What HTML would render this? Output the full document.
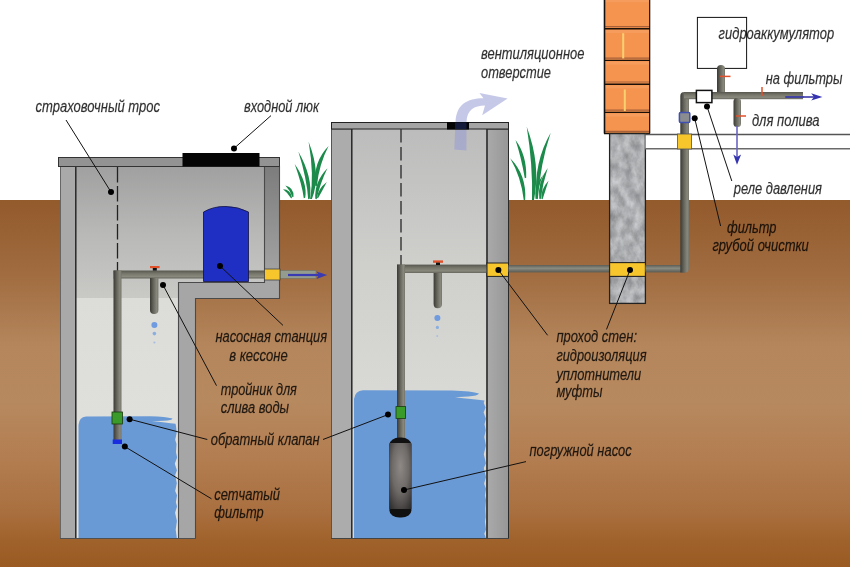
<!DOCTYPE html>
<html><head><meta charset="utf-8">
<style>
html,body{margin:0;padding:0;background:#fff;}
body{width:850px;height:567px;overflow:hidden;}
svg{display:block;filter:blur(0.35px);}
text{font-family:"Liberation Sans",sans-serif;font-style:italic;font-size:16px;fill:#000;fill-opacity:0.8;stroke:#000;stroke-opacity:0.55;stroke-width:0.3px;}
</style></head>
<body>
<svg width="856" height="573" viewBox="-3 -3 856 573" style="margin:-3px 0 0 -3px">
<defs>
<linearGradient id="soil" x1="0" y1="200" x2="0" y2="567" gradientUnits="userSpaceOnUse">
<stop offset="0" stop-color="#935a2c"/>
<stop offset="0.2" stop-color="#a06c40"/>
<stop offset="0.4" stop-color="#b5865c"/>
<stop offset="0.55" stop-color="#b7895f"/>
<stop offset="0.72" stop-color="#b27c4f"/>
<stop offset="0.85" stop-color="#a96f3f"/>
<stop offset="0.93" stop-color="#a0622b"/>
<stop offset="1" stop-color="#9a5a22"/>
</linearGradient>
<linearGradient id="room1" x1="0" y1="166" x2="0" y2="298" gradientUnits="userSpaceOnUse">
<stop offset="0" stop-color="#a0a0a0"/>
<stop offset="0.5" stop-color="#b8b8b7"/>
<stop offset="1" stop-color="#c9c9c6"/>
</linearGradient>
<linearGradient id="shaft1" x1="0" y1="298" x2="0" y2="540" gradientUnits="userSpaceOnUse">
<stop offset="0" stop-color="#dcdcd8"/>
<stop offset="1" stop-color="#e2e2de"/>
</linearGradient>
<linearGradient id="room2" x1="0" y1="129" x2="0" y2="400" gradientUnits="userSpaceOnUse">
<stop offset="0" stop-color="#bcbcbc"/>
<stop offset="0.5" stop-color="#cfcfcc"/>
<stop offset="1" stop-color="#d9d9d5"/>
</linearGradient>
<linearGradient id="rwall1" x1="0" y1="166" x2="0" y2="282" gradientUnits="userSpaceOnUse">
<stop offset="0" stop-color="#7c7c7c"/>
<stop offset="1" stop-color="#a6a6a6"/>
</linearGradient>
<linearGradient id="pipeH" x1="0" y1="0" x2="0" y2="1">
<stop offset="0" stop-color="#56564e"/>
<stop offset="0.4" stop-color="#77776c"/>
<stop offset="0.75" stop-color="#88887c"/>
<stop offset="1" stop-color="#66665d"/>
</linearGradient>
<linearGradient id="pipeV" x1="0" y1="0" x2="1" y2="0">
<stop offset="0" stop-color="#3a3a34"/>
<stop offset="0.4" stop-color="#64645b"/>
<stop offset="0.8" stop-color="#88887d"/>
<stop offset="1" stop-color="#74746a"/>
</linearGradient>
<filter id="conc" x="0" y="0" width="100%" height="100%" filterUnits="objectBoundingBox" color-interpolation-filters="sRGB">
<feTurbulence type="fractalNoise" baseFrequency="0.12 0.08" numOctaves="4" seed="7"/>
<feColorMatrix type="matrix" values="0.36 0 0 0 0.50  0.36 0 0 0 0.505  0.36 0 0 0 0.515  0 0 0 0 1"/>
</filter>
<linearGradient id="rwall2" x1="0" y1="0" x2="1" y2="0">
<stop offset="0" stop-color="#aaaaaa"/>
<stop offset="1" stop-color="#979797"/>
</linearGradient>
<linearGradient id="pipeG" x1="0" y1="0" x2="0" y2="1">
<stop offset="0" stop-color="#5c5e56"/>
<stop offset="0.45" stop-color="#8a8c82"/>
<stop offset="1" stop-color="#585a52"/>
</linearGradient>
<radialGradient id="pumpR" cx="0.5" cy="0.4" r="0.75" fx="0.5" fy="0.35">
<stop offset="0" stop-color="#8e8985"/>
<stop offset="0.5" stop-color="#6e6a68"/>
<stop offset="1" stop-color="#2e2c2c"/>
</radialGradient>
<linearGradient id="pump" x1="0" y1="0" x2="1" y2="0">
<stop offset="0" stop-color="#3a3a3a"/>
<stop offset="0.5" stop-color="#7a7a7a"/>
<stop offset="1" stop-color="#3a3a3a"/>
</linearGradient>
</defs>

<!-- soil -->
<rect x="-3" y="200" width="856" height="370" fill="url(#soil)"/>

<!-- ===== LEFT CAISSON ===== -->
<rect x="75" y="166" width="189" height="132" fill="url(#room1)"/>
<rect x="75" y="298" width="103" height="241" fill="url(#shaft1)"/>
<!-- water -->
<path d="M78.5,538 L78.5,425 Q79,417 86,416.5 L150,416.3 Q166,416.8 172.5,418.6 Q172,420.6 164,420.8 L152,421.2 Q166,422.4 175.5,423.8 L176.0,426.0 L176.7,432.7 L175.2,439.7 L176.5,444.1 L176.0,452.3 L177.1,457.4 L174.8,463.8 L176.9,470.2 L175.2,474.9 L176.8,483.3 L175.2,491.0 L177.0,495.3 L175.9,502.2 L177.0,506.4 L175.1,512.8 L176.9,521.1 L175.7,529.8 L176.8,537.8 L176.5,538.0 Z" fill="#6a9ad6"/>
<!-- left wall -->
<rect x="60.5" y="166.5" width="15" height="372" fill="#a9a9a9" stroke="#666" stroke-width="1"/>
<line x1="75.8" y1="166" x2="75.8" y2="538" stroke="#2a2a2a" stroke-width="1.5"/>
<!-- right wall upper -->

<!-- step L -->
<path d="M264.5,166.5 L279.5,166.5 L279.5,298.5 L195.5,298.5 L195.5,538.5 L178.5,538.5 L178.5,282.5 L264.5,282.5 Z" fill="#a6a6a6"/>
<rect x="264.5" y="166.5" width="15" height="116" fill="url(#rwall1)"/>
<path d="M264.5,166.5 L279.5,166.5 L279.5,298.5 L195.5,298.5 L195.5,538.5 L178.5,538.5 L178.5,282.5 L264.5,282.5 Z" fill="none" stroke="#4a4a4a" stroke-width="1.1"/>
<line x1="60" y1="538.5" x2="196" y2="538.5" stroke="#505050" stroke-width="1.2"/>
<!-- top slab -->
<rect x="58.5" y="157.5" width="221" height="9" fill="#939393" stroke="#333" stroke-width="1"/>
<rect x="182.5" y="153" width="77" height="13.5" fill="#050505"/>
<!-- dashed rope -->
<line x1="117.5" y1="167" x2="117.5" y2="271" stroke="#222" stroke-width="1.3" stroke-dasharray="15.5,3.5"/>


<!-- left pipes -->
<rect x="113.5" y="270.5" width="150.5" height="8" fill="url(#pipeH)"/>
<rect x="113.5" y="270.5" width="8" height="170" fill="url(#pipeV)"/>
<path d="M150,278 L158.4,278 L158.4,310 Q158.4,314 154.2,314 Q150,314 150,310 Z" fill="url(#pipeV)"/>
<rect x="150" y="266" width="9.6" height="2.2" fill="#e0502a"/>
<rect x="152.8" y="268" width="4" height="2.6" fill="#111"/>
<circle cx="154.4" cy="325" r="3" fill="#6f9be0"/>
<circle cx="154.4" cy="333.6" r="1.8" fill="#8aaee0"/>
<circle cx="154.4" cy="342.5" r="1.1" fill="#a8c0e0"/>
<rect x="112" y="412" width="10.5" height="12" fill="#3a9a2a" stroke="#1a3a10" stroke-width="0.8"/>
<rect x="112.7" y="439.5" width="9.3" height="4.5" fill="#1a2ee0"/>
<!-- blue tank -->
<path d="M203.5,281.5 L203.5,212 Q214,206 226,206.5 Q238,206.5 248.5,212 L248.5,281.5 Z" fill="#1f2fc4" stroke="#101040" stroke-width="0.8"/>
<!-- outlet pipe left -->
<rect x="280" y="270.5" width="36" height="7.8" fill="#949c8e"/>
<rect x="280" y="270.5" width="36" height="7.8" fill="none" stroke="#6e7468" stroke-width="0.6"/>
<rect x="264.5" y="269" width="15.5" height="11" fill="#f7c52c" stroke="#444" stroke-width="0.8"/>
<line x1="288" y1="275" x2="320" y2="275" stroke="#3a3ab2" stroke-width="2.2"/>
<path d="M316.5,271.5 L327.2,275 L316.5,279 L318.8,275 Z" fill="#3a3ab2"/>

<!-- ===== MIDDLE WELL ===== -->
<rect x="351.5" y="129" width="135.5" height="410" fill="url(#room2)"/>
<path d="M354,538 L354,399 Q355,391 363,390.3 L452,390.5 Q472,391.2 479,393.4 Q478,395.8 468,396.4 L455,397.2 Q472,399.2 484.5,400.4 L483.7,403.0 L485.6,407.5 L483.6,412.6 L485.9,418.8 L484.5,424.3 L485.7,430.2 L484.3,437.1 L485.9,445.6 L483.8,454.3 L485.9,463.2 L483.8,468.0 L486.0,476.9 L484.1,483.7 L486.0,488.8 L484.9,495.6 L486.0,500.0 L485.3,508.9 L485.7,516.9 L484.9,521.7 L486.0,529.5 L484.3,533.7 L485.9,538.0 L485.5,538.0 Z" fill="#6a9ad6"/>
<rect x="331.5" y="129" width="20" height="409.5" fill="#acacac" stroke="#555" stroke-width="1"/>
<line x1="351.8" y1="129" x2="351.8" y2="538" stroke="#2a2a2a" stroke-width="1.5"/>
<rect x="487" y="129" width="21.5" height="409.5" fill="url(#rwall2)" stroke="#2a2a2a" stroke-width="1"/>
<line x1="487" y1="129" x2="487" y2="538" stroke="#3a3a3a" stroke-width="1.6"/>
<line x1="331" y1="538.5" x2="509" y2="538.5" stroke="#444" stroke-width="1.2"/>
<!-- vent arrow -->
<path d="M454.3,149.5 L455.5,122 C456.5,104 467,98.5 483.5,98.2 L479.4,93 L507.6,98.5 L482.2,115.3 L485,105.5 C474,105.5 467,110 466.5,122 L466.4,150.5 Z" fill="rgb(150,155,212)" fill-opacity="0.55"/>
<rect x="331.5" y="122.5" width="177" height="6.5" fill="#a5a5a5" stroke="#222" stroke-width="1"/>
<rect x="447" y="122" width="22" height="7.5" fill="#050505"/>
<rect x="455" y="122.5" width="11.5" height="6.5" fill="#141a3c"/>
<line x1="401" y1="129" x2="401" y2="265" stroke="#333" stroke-width="1.4" stroke-dasharray="13.5,4.5"/>

<!-- middle pipes -->
<rect x="397" y="264.6" width="90" height="8.4" fill="url(#pipeH)"/>
<rect x="397" y="264.6" width="8" height="174" fill="url(#pipeV)"/>
<path d="M433.6,273 L442,273 L442,304 Q442,308.2 437.8,308.2 Q433.6,308.2 433.6,304 Z" fill="url(#pipeV)"/>
<rect x="433" y="260.4" width="10" height="2.4" fill="#e0502a"/>
<rect x="436" y="262.6" width="4" height="2.4" fill="#111"/>
<circle cx="437.4" cy="318" r="3" fill="#6f9be0"/>
<circle cx="437.4" cy="327.4" r="1.6" fill="#8aaee0"/>
<circle cx="437.2" cy="336" r="1" fill="#a8c0e0"/>
<rect x="396" y="406.6" width="9.6" height="11.8" fill="#3a9a2a" stroke="#1a3a10" stroke-width="0.8"/>
<!-- pump -->
<rect x="389.4" y="437.6" width="22" height="80" rx="10" ry="7" fill="#111"/>
<rect x="389.4" y="443" width="22" height="66" fill="url(#pumpR)"/>
<rect x="487" y="263" width="21.5" height="13.4" fill="#f7c52c" stroke="#222" stroke-width="1"/>

<!-- pipe to column -->
<rect x="508.5" y="265" width="101" height="7.4" fill="url(#pipeG)"/>

<!-- grass -->
<g fill="#1b8a4a">
<path d="M310.1,199.0 Q314.4,175.2 308.6,141.8 Q321.6,174.8 311.9,199.0 Z"/>
<path d="M315.2,185.8 Q312.9,162.0 328.6,146.0 Q319.1,164.0 316.8,186.2 Z"/>
<path d="M308.2,199.2 Q306.9,178.7 298.4,151.7 Q313.1,177.3 309.8,198.8 Z"/>
<path d="M303.8,198.2 Q302.1,184.8 294.7,164.0 Q307.9,183.2 305.2,197.8 Z"/>
<path d="M291.2,198.4 Q287.4,192.5 283.0,189.3 Q290.6,189.5 292.0,197.6 Z"/>
<path d="M292.5,197.3 Q290.0,190.3 285.4,185.6 Q294.0,187.7 293.5,196.7 Z"/>
<path d="M315.3,198.7 Q314.2,182.0 327.4,168.3 Q319.8,184.0 316.7,199.3 Z"/>
<path d="M317.0,197.7 Q317.9,188.8 326.8,182.0 Q322.1,191.2 318.0,198.3 Z"/>
<path d="M532.0,200.1 Q533.0,165.3 526.7,126.7 Q541.0,164.7 534.0,199.9 Z"/>
<path d="M536.2,198.8 Q533.7,162.3 550.7,132.7 Q540.3,163.7 537.8,199.2 Z"/>
<path d="M524.8,178.2 Q521.1,156.8 515.5,140.0 Q526.9,155.2 526.2,177.8 Z"/>
<path d="M523.8,200.2 Q521.2,177.0 510.2,158.2 Q526.8,175.0 525.2,199.8 Z"/>
<path d="M539.3,198.8 Q537.3,182.3 547.7,168.0 Q542.7,183.7 540.7,199.2 Z"/>
<path d="M541.4,198.8 Q540.7,189.2 548.5,180.7 Q545.3,190.8 542.6,199.2 Z"/>
<path d="M535.5,198.8 Q533.9,186.4 543.0,175.0 Q538.1,187.6 536.5,199.2 Z"/>
</g>

<!-- ===== COLUMN ===== -->
<rect x="604.5" y="-3" width="45" height="136.5" fill="#f4944f"/>
<rect x="605" y="-0.8" width="44" height="3" fill="#f7a468" opacity="0.6"/>
<line x1="605" y1="26.6" x2="649.5" y2="26.6" stroke="#a8603a" stroke-width="1.2"/>
<line x1="604" y1="28.8" x2="650" y2="28.8" stroke="#1a1008" stroke-width="1.4"/>
<rect x="605" y="30.0" width="44" height="3" fill="#f7a468" opacity="0.6"/>
<line x1="605" y1="58.2" x2="649.5" y2="58.2" stroke="#a8603a" stroke-width="1.2"/>
<line x1="604" y1="60.4" x2="650" y2="60.4" stroke="#1a1008" stroke-width="1.4"/>
<rect x="605" y="61.6" width="44" height="3" fill="#f7a468" opacity="0.6"/>
<line x1="605" y1="82.0" x2="649.5" y2="82.0" stroke="#a8603a" stroke-width="1.2"/>
<line x1="604" y1="84.2" x2="650" y2="84.2" stroke="#1a1008" stroke-width="1.4"/>
<rect x="605" y="85.4" width="44" height="3" fill="#f7a468" opacity="0.6"/>
<line x1="605" y1="110.2" x2="649.5" y2="110.2" stroke="#a8603a" stroke-width="1.2"/>
<line x1="604" y1="112.4" x2="650" y2="112.4" stroke="#1a1008" stroke-width="1.4"/>
<rect x="605" y="113.6" width="44" height="3" fill="#f7a468" opacity="0.6"/>
<line x1="605" y1="131.3" x2="649.5" y2="131.3" stroke="#a8603a" stroke-width="1.2"/>
<line x1="604" y1="133.5" x2="650" y2="133.5" stroke="#1a1008" stroke-width="1.4"/>
<rect x="622.2" y="33.2" width="2" height="25.2" fill="#f8d070"/>
<rect x="623.8" y="89.5" width="2" height="21.5" fill="#f8d070"/>
<line x1="604.5" y1="-3" x2="604.5" y2="133.5" stroke="#111" stroke-width="1.6"/>
<line x1="649.7" y1="-3" x2="649.7" y2="133.5" stroke="#111" stroke-width="1.2"/>
<rect x="609.6" y="133.6" width="35.8" height="169.8" filter="url(#conc)"/>
<rect x="609.6" y="133.6" width="35.8" height="169.8" fill="none" stroke="#222" stroke-width="1.3"/>
<rect x="609.6" y="262.6" width="35.8" height="13.8" fill="#f7c52c" stroke="#222" stroke-width="1.1"/>

<!-- ===== RIGHT SIDE ===== -->
<rect x="645.5" y="134.5" width="208" height="14.3" fill="#fff"/>
<line x1="645" y1="134.5" x2="853" y2="134.5" stroke="#555" stroke-width="1.3"/>
<line x1="645" y1="148.8" x2="853" y2="148.8" stroke="#6a6a6a" stroke-width="1.4"/>
<rect x="645.4" y="265" width="40" height="7.4" fill="url(#pipeG)"/>
<path d="M680.3,272.4 L680.3,96 Q680.3,92 684.3,92 L689,92 L689,268.4 Q689,272.4 685,272.4 Z" fill="url(#pipeV)"/>
<rect x="684" y="92" width="119" height="7.2" fill="url(#pipeH)"/>
<rect x="733.5" y="98" width="7.5" height="29" rx="3.5" fill="url(#pipeV)"/>
<rect x="697.4" y="17.4" width="49.2" height="51" fill="#fff" stroke="#111" stroke-width="1"/>
<path d="M717,92 L717,69 Q717,65 721,65 Q725,65 725,69 L725,92 Z" fill="url(#pipeV)"/>
<rect x="696.4" y="90.4" width="15.5" height="12.2" fill="#fff" stroke="#111" stroke-width="1.5"/>
<rect x="679.4" y="112.4" width="10.4" height="10" rx="1.2" fill="#8a8c90" stroke="#4050b0" stroke-width="1.5"/>
<rect x="677.4" y="134" width="14.2" height="15" fill="#f7c52c" stroke="#555" stroke-width="0.8"/>
<line x1="720" y1="76.4" x2="730.5" y2="76.4" stroke="#e0502a" stroke-width="1.5"/>
<line x1="762" y1="87" x2="762" y2="96" stroke="#e0502a" stroke-width="1.5"/>
<line x1="736" y1="116" x2="746" y2="116" stroke="#e0502a" stroke-width="1.5"/>
<line x1="785.3" y1="97" x2="814" y2="97" stroke="#3a3aa8" stroke-width="1.8"/>
<line x1="804" y1="97" x2="814" y2="97" stroke="#6a66c0" stroke-width="1.6"/>
<path d="M811.2,93.2 L822.4,96.9 L811.2,100.6 L814,96.9 Z" fill="#3434b0"/>
<line x1="737" y1="126" x2="737" y2="157" stroke="#6a64c2" stroke-width="1.6"/>
<path d="M733.3,154.4 L737,157 L741.1,154.4 L737,164.8 Z" fill="#3434b0"/>

<!-- ===== CALLOUTS ===== -->
<g stroke="#111" stroke-width="1" fill="none">
<line x1="66" y1="120" x2="111" y2="192"/>
<line x1="271" y1="115.6" x2="234" y2="148.4"/>
<line x1="220" y1="266" x2="283" y2="325.4"/>
<line x1="163" y1="285" x2="216.5" y2="385.7"/>
<line x1="129.6" y1="419.2" x2="207.3" y2="439.5"/>
<line x1="124.8" y1="446.6" x2="211.5" y2="498.8"/>
<line x1="388" y1="414.6" x2="323" y2="439.5"/>
<line x1="404" y1="490" x2="526" y2="461.6"/>
<line x1="498.4" y1="270" x2="547.6" y2="335.3"/>
<line x1="630" y1="270" x2="606.5" y2="329.4"/>
<line x1="707" y1="106.4" x2="731.8" y2="181"/>
<line x1="694.7" y1="118.3" x2="720.6" y2="226"/>
</g>
<g fill="#000">
<circle cx="111" cy="192" r="3"/>
<circle cx="234" cy="148.4" r="3"/>
<circle cx="220" cy="266" r="3"/>
<circle cx="163" cy="285" r="3"/>
<circle cx="129.6" cy="419.2" r="3"/>
<circle cx="124.8" cy="446.6" r="3"/>
<circle cx="388" cy="414.6" r="3"/>
<circle cx="404" cy="490" r="3"/>
<circle cx="498.4" cy="270" r="3"/>
<circle cx="630" cy="270" r="3"/>
<circle cx="707" cy="106.4" r="3"/>
<circle cx="694.7" cy="118.3" r="3"/>
</g>

<!-- ===== TEXT ===== -->
<text x="35.6" y="111.8" textLength="124.4" lengthAdjust="spacingAndGlyphs">страховочный трос</text>
<text x="244" y="111.8" textLength="75" lengthAdjust="spacingAndGlyphs">входной люк</text>
<text x="481" y="59.2" textLength="103.4" lengthAdjust="spacingAndGlyphs">вентиляционное</text>
<text x="481" y="77.8" textLength="70" lengthAdjust="spacingAndGlyphs">отверстие</text>
<text x="718.6" y="38.8" textLength="115.6" lengthAdjust="spacingAndGlyphs">гидроаккумулятор</text>
<text x="765.8" y="84.3" textLength="76.6" lengthAdjust="spacingAndGlyphs">на фильтры</text>
<text x="751.9" y="125.8" textLength="67.6" lengthAdjust="spacingAndGlyphs">для полива</text>
<text x="733.8" y="194.3" textLength="88.2" lengthAdjust="spacingAndGlyphs">реле давления</text>
<text x="727" y="233.2" textLength="49.4" lengthAdjust="spacingAndGlyphs">фильтр</text>
<text x="712.4" y="250.8" textLength="96.4" lengthAdjust="spacingAndGlyphs">грубой очистки</text>
<text x="215.4" y="342.1" textLength="111.7" lengthAdjust="spacingAndGlyphs">насосная станция</text>
<text x="229.2" y="361.1" textLength="58.6" lengthAdjust="spacingAndGlyphs">в кессоне</text>
<text x="220.7" y="395.0" textLength="76.2" lengthAdjust="spacingAndGlyphs">тройник для</text>
<text x="220.7" y="413.0" textLength="68.3" lengthAdjust="spacingAndGlyphs">слива воды</text>
<text x="210.7" y="445.4" textLength="109" lengthAdjust="spacingAndGlyphs">обратный клапан</text>
<text x="214.3" y="499.6" textLength="65.7" lengthAdjust="spacingAndGlyphs">сетчатый</text>
<text x="214.3" y="518.0" textLength="49.4" lengthAdjust="spacingAndGlyphs">фильтр</text>
<text x="556.4" y="342.0" textLength="80.6" lengthAdjust="spacingAndGlyphs">проход стен:</text>
<text x="556.4" y="360.8" textLength="90.1" lengthAdjust="spacingAndGlyphs">гидроизоляция</text>
<text x="556.4" y="379.6" textLength="84.9" lengthAdjust="spacingAndGlyphs">уплотнители</text>
<text x="556.4" y="397.3" textLength="46.1" lengthAdjust="spacingAndGlyphs">муфты</text>
<text x="529.5" y="456.2" textLength="102.2" lengthAdjust="spacingAndGlyphs">погружной насос</text>
</svg>
</body></html>
